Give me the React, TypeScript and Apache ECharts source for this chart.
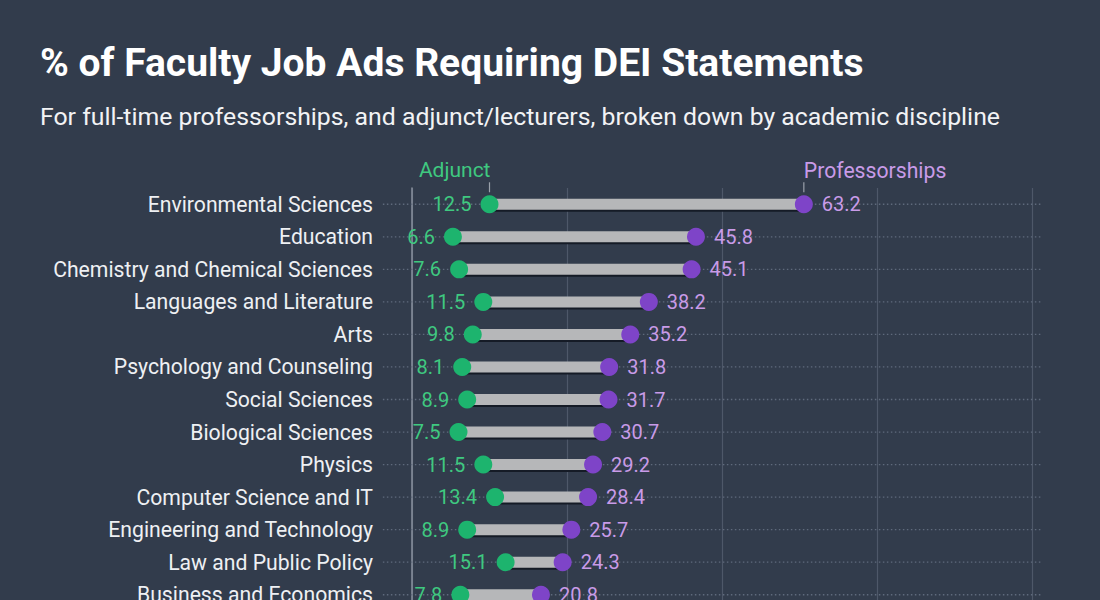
import React, { useEffect, useRef } from "react";
import * as echarts from "echarts";

const categories = [
  "Environmental Sciences",
  "Education",
  "Chemistry and Chemical Sciences",
  "Languages and Literature",
  "Arts",
  "Psychology and Counseling",
  "Social Sciences",
  "Biological Sciences",
  "Physics",
  "Computer Science and IT",
  "Engineering and Technology",
  "Law and Public Policy",
  "Business and Economics",
];
const adjunct = [12.5, 6.6, 7.6, 11.5, 9.8, 8.1, 8.9, 7.5, 11.5, 13.4, 8.9, 15.1, 7.8];
const professorships = [63.2, 45.8, 45.1, 38.2, 35.2, 31.8, 31.7, 30.7, 29.2, 28.4, 25.7, 24.3, 20.8];
const xTicks = [0, 25, 50, 75, 100];

const BG = "#323c4c";
const GREEN = "#1db46e";
const GREEN_TXT = "#3fc980";
const PURPLE = "#7e44c8";
const PURPLE_TXT = "#c99be8";
const FONT = "Roboto";

export default function App() {
  const ref = useRef<HTMLDivElement>(null);
  useEffect(() => {
    document.body.style.margin = "0";
    const chart = echarts.init(ref.current!, null, { renderer: "svg" });
    const option: any = {
      animation: false,
      backgroundColor: BG,
      title: [
        {
          text: "% of Faculty Job Ads Requiring DEI Statements",
          left: 35,
          top: 38,
          textStyle: { color: "#ffffff", fontFamily: FONT, fontWeight: "bold", fontSize: 39 },
        },
        {
          text: "For full-time professorships, and adjunct/lecturers, broken down by academic discipline",
          left: 35,
          top: 99,
          textStyle: { color: "#f2f3f5", fontFamily: FONT, fontWeight: "normal", fontSize: 24.8 },
        },
      ],
      grid: { left: 412, right: 68, top: 188, bottom: 29 },
      xAxis: {
        type: "value",
        min: xTicks[0],
        max: xTicks[xTicks.length - 1],
        interval: 25,
        axisLabel: { show: false },
        axisTick: { show: false },
        axisLine: { show: false },
        splitLine: { show: true, lineStyle: { color: "#4e5869", width: 1.2 } },
      },
      yAxis: {
        type: "category",
        data: categories,
        inverse: true,
        axisTick: { show: false },
        axisLine: { show: true, lineStyle: { color: "#8a929f", width: 1.5 } },
        axisLabel: { color: "#eef0f3", fontFamily: FONT, fontSize: 21.2, margin: 39 },
        splitLine: { show: false },
      },
      series: [
        {
          type: "custom",
          name: "guides",
          clip: false,
          z: 1,
          silent: true,
          data: categories.map((_, i) => [0, i]),
          encode: { x: 0, y: 1 },
          renderItem: (params: any, api: any) => {
            const i = api.value(1);
            const a = api.coord([-4.7, i]);
            const b = api.coord([101.6, i]);
            return {
              type: "line",
              shape: { x1: a[0], y1: a[1], x2: b[0], y2: b[1] },
              style: { stroke: "#5f6a7c", lineWidth: 1.3, lineDash: [1.5, 2.5] },
            };
          },
        },
        {
          type: "custom",
          name: "range",
          z: 2,
          silent: true,
          clip: false,
          data: adjunct.map((a, i) => [a, professorships[i], i]),
          encode: { x: [0, 1], y: 2 },
          renderItem: (params: any, api: any) => {
            const i = api.value(2);
            const p1 = api.coord([api.value(0), i]);
            const p2 = api.coord([api.value(1), i]);
            const h = 11;
            return {
              type: "group",
              children: [
                {
                  type: "rect",
                  shape: { x: p1[0], y: p1[1] - h / 2 + 2, width: p2[0] - p1[0], height: h },
                  style: { fill: "#151b26" },
                },
                {
                  type: "rect",
                  shape: { x: p1[0], y: p1[1] - h / 2, width: p2[0] - p1[0], height: h },
                  style: { fill: "#b6b7b9" },
                },
              ],
            };
          },
        },
        {
          type: "custom",
          name: "annotations",
          z: 3,
          silent: true,
          clip: false,
          data: [[adjunct[0], professorships[0], 0]],
          encode: { x: [0, 1], y: 2 },
          renderItem: (params: any, api: any) => {
            const i = api.value(2);
            const pa = api.coord([api.value(0), i]);
            const pp = api.coord([api.value(1), i]);
            return {
              type: "group",
              children: [
                {
                  type: "line",
                  shape: { x1: pa[0], y1: pa[1] - 22, x2: pa[0], y2: pa[1] - 12 },
                  style: { stroke: "#9aa1ab", lineWidth: 1.2 },
                },
                {
                  type: "line",
                  shape: { x1: pp[0], y1: pp[1] - 22, x2: pp[0], y2: pp[1] - 12 },
                  style: { stroke: "#9aa1ab", lineWidth: 1.2 },
                },
                {
                  type: "text",
                  x: pa[0] + 1,
                  y: pa[1] - 34,
                  style: {
                    text: "Adjunct",
                    fill: GREEN_TXT,
                    fontFamily: FONT,
                    fontSize: 21,
                    align: "right",
                    verticalAlign: "middle",
                  },
                },
                {
                  type: "text",
                  x: pp[0],
                  y: pp[1] - 34,
                  style: {
                    text: "Professorships",
                    fill: PURPLE_TXT,
                    fontFamily: FONT,
                    fontSize: 21.2,
                    align: "left",
                    verticalAlign: "middle",
                  },
                },
              ],
            };
          },
        },
        {
          type: "scatter",
          name: "Adjunct",
          z: 4,
          symbolSize: 18,
          itemStyle: { color: GREEN, opacity: 1 },
          data: adjunct.map((v, i) => [v, i]),
          label: {
            show: true,
            position: "left",
            distance: 9,
            color: GREEN_TXT,
            fontFamily: FONT,
            fontSize: 20,
            formatter: (p: any) => p.value[0].toFixed(1),
          },
        },
        {
          type: "scatter",
          name: "Professorships",
          z: 4,
          symbolSize: 18,
          itemStyle: { color: PURPLE, opacity: 1 },
          data: professorships.map((v, i) => [v, i]),
          label: {
            show: true,
            position: "right",
            distance: 9,
            color: PURPLE_TXT,
            fontFamily: FONT,
            fontSize: 20,
            formatter: (p: any) => p.value[0].toFixed(1),
          },
        },
      ],
    };
    chart.setOption(option);
    return () => chart.dispose();
  }, []);
  return (
    <div style={{ width: 1100, height: 600, overflow: "hidden", background: BG }}>
      <div ref={ref} style={{ width: 1100, height: 640 }} />
    </div>
  );
}
